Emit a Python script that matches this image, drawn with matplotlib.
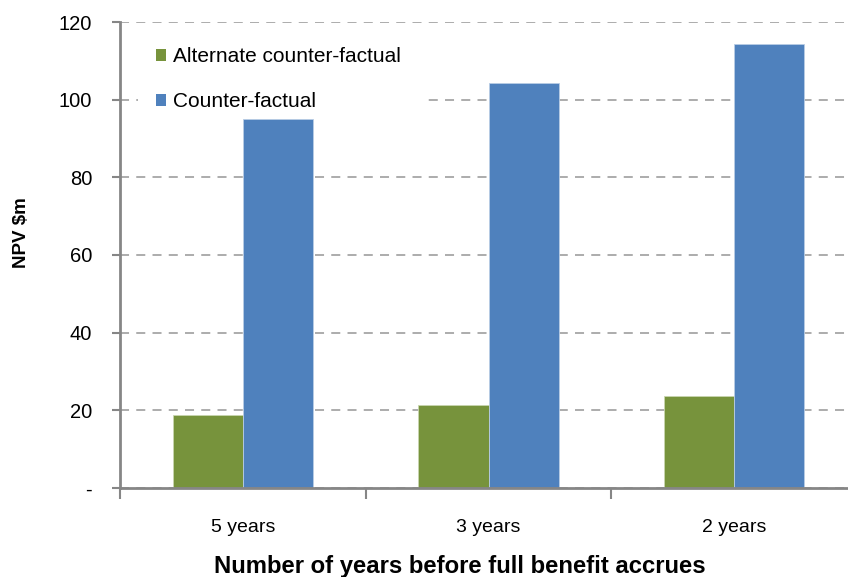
import matplotlib
matplotlib.use("Agg")
import matplotlib.pyplot as plt
from matplotlib.patches import Patch, Rectangle
import numpy as np

categories = ["5 years", "3 years", "2 years"]
alternate = [18.7, 21.3, 23.8]
counter = [95.0, 104.3, 114.4]
series_names = ["Alternate counter-factual", "Counter-factual"]
y_ticks = [0, 20, 40, 60, 80, 100, 120]
y_tick_labels = ["-", "20", "40", "60", "80", "100", "120"]

GREEN = "#77933C"
BLUE = "#4F81BD"
AXIS = "#868686"
GRID = "#A6A6A6"

plt.rcParams["font.family"] = ["Liberation Sans", "DejaVu Sans"]

W, H = 848, 577
fig = plt.figure(figsize=(W / 100, H / 100), dpi=100)
# axes extend slightly past the right edge of the figure
left_px, right_px, bottom_px, top_px = 120, 857, 488, 22
ax = fig.add_axes([left_px / W, (H - bottom_px) / H,
                   (right_px - left_px) / W, (bottom_px - top_px) / H])

def fig_xy(px, py):
    return px / W, 1 - py / H

x = np.arange(len(categories))
bw = 0.285
ax.bar(x - bw / 2, alternate, bw, color=GREEN, edgecolor="#C9D6B0", linewidth=0.6, zorder=3)
ax.bar(x + bw / 2, counter, bw, color=BLUE, edgecolor="#B9CDE5", linewidth=0.6, zorder=3)

ax.set_xlim(-0.5, len(categories) - 0.5)
ax.set_ylim(0, 120)

ax.set_yticks(y_ticks)
ax.set_yticklabels(y_tick_labels, fontsize=14.5)
ax.set_xticks(x)
ax.set_xticklabels(categories, fontsize=14)
ax.set_xticks(np.arange(-0.5, len(categories)), minor=True)

ax.tick_params(axis="x", which="major", length=0, pad=22)
ax.tick_params(axis="x", which="minor", length=8, width=1.5, color=AXIS, direction="out")
ax.tick_params(axis="y", which="major", length=6, width=1.5, color=AXIS, direction="out", pad=14)

for side in ("top", "right"):
    ax.spines[side].set_visible(False)
for side in ("left", "bottom"):
    ax.spines[side].set_color(AXIS)
    ax.spines[side].set_linewidth(2)
    ax.spines[side].set_zorder(4)

ax.yaxis.grid(True, color=GRID, linestyle=(0, (5, 4)), linewidth=1.3, zorder=0)
ax.set_axisbelow(True)

fig.text(*fig_xy(21, 233), "NPV $m", rotation=90, ha="center", va="center",
         fontsize=13.5, fontweight="bold")
fig.text(*fig_xy(460, 566), "Number of years before full benefit accrues",
         ha="center", va="center", fontsize=17.2, fontweight="bold")

# white backing box behind the legend
x0, y0 = fig_xy(138, 118)
x1, y1 = fig_xy(423, 32)
fig.patches.append(Rectangle((x0, y0), x1 - x0, y1 - y0, transform=fig.transFigure,
                             facecolor="white", edgecolor="none", zorder=1))

handles = [Patch(facecolor=GREEN, edgecolor="none"), Patch(facecolor=BLUE, edgecolor="none")]
leg = fig.legend(handles, series_names, loc="upper left", bbox_to_anchor=fig_xy(156, 47),
                 fontsize=15, frameon=False, handlelength=0.5, handleheight=0.5,
                 handletextpad=0.3, labelspacing=1.25, borderpad=0, borderaxespad=0)
leg.set_zorder(5)

fig.savefig("out.png", dpi=100)
